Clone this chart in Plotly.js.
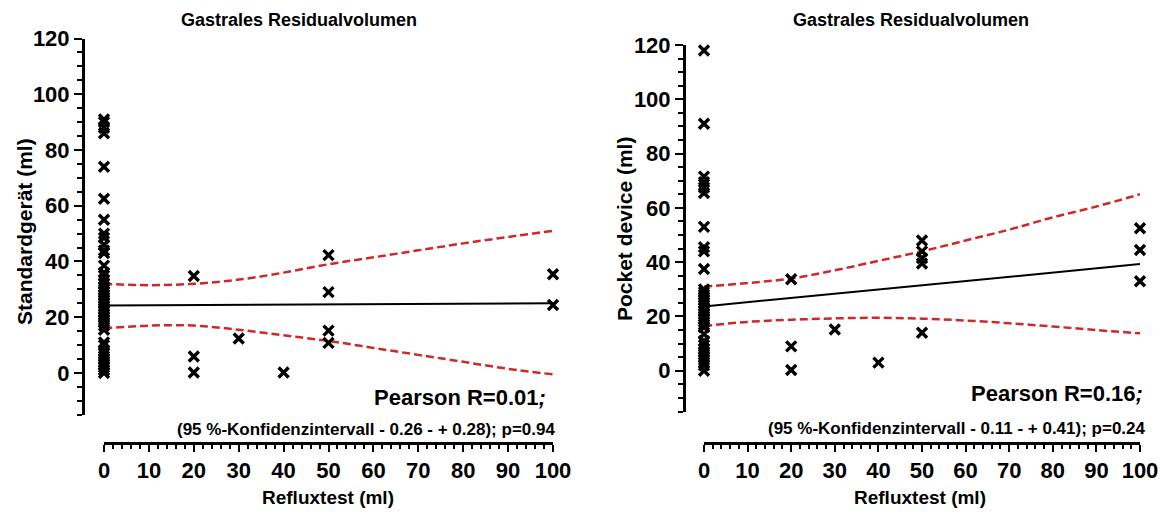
<!DOCTYPE html>
<html><head><meta charset="utf-8">
<script src="https://cdn.plot.ly/plotly-3.0.1.min.js"></script>
<style>html,body{margin:0;padding:0;background:#fff}#chart{width:1160px;height:514px}</style>
</head><body><div id="chart"></div>
<script>
// ---------- data ----------
const chartTitle = "Gastrales Residualvolumen";
const xTitle = "Refluxtest (ml)";
const leftYTitle = "Standardgerät (ml)";
const rightYTitle = "Pocket device (ml)";
const xTickVals = [0,10,20,30,40,50,60,70,80,90,100];
const yTickVals = [0,20,40,60,80,100,120];

// scatter groups: x positions and y values at each
const groupX = [0,20,30,40,50,100];
const leftGroupY = [
  [91,90,88,86,74,62.5,55,50,48.5,46,44,43,38.5,36,35,33.5,32,31,30,29,28,27,26,25,24,23,22,21,20,19,18,17,15.5,11,10,8,7,6,5,4,3,2,1,0],
  [34.8,5.9,0.2],
  [12.4],
  [0.2],
  [42.3,29,15.2,10.8],
  [35.4,24.4]
];
const rightGroupY = [
  [118,91,71.5,69.5,67.5,65.5,53,45.5,44,37.5,30,29,28,27,26,25,24,23,22,21,20,19,18,17,16,13.5,11,9.5,8,7,6,5,4,3,2,0],
  [33.7,9,0.3],
  [15.2],
  [3],
  [48,44,41.5,39.5,14],
  [52.5,44.5,33]
];

// regression lines and 95% confidence bands
const fitX = [0,100];
const leftFit = [24.2,25];
const rightFit = [23.7,39.3];
const bandX = [0,10,20,30,40,50,60,70,80,90,100];
const leftUpper = [32,31.5,32,33.5,36,39,41.5,44,46.5,48.8,51];
const leftLower = [16,17,17,15.5,13.5,11.5,9,6.5,4,1.5,-0.5];
const rightUpper = [31,32.3,34,37,40.5,44,48,52,56.5,60.5,65];
const rightLower = [16.5,18,18.8,19.3,19.5,19.2,18.5,17.5,16.3,15,13.8];

const leftStats = ["Pearson R=0.01<i>;</i>", "(95 %-Konfidenzintervall - 0.26 - + 0.28); p=0.94"];
const rightStats = ["Pearson R=0.16<i>;</i>", "(95 %-Konfidenzintervall - 0.11 - + 0.41); p=0.24"];

// ---------- layout helpers ----------
const W = 1160, H = 514;
const px = v => v / W;
const py = v => 1 - v / H;
const SANS = '"Liberation Sans", Arial, sans-serif';

function flat(groupsY) {
  const xs = [], ys = [];
  groupsY.forEach((g, i) => g.forEach(v => { xs.push(groupX[i]); ys.push(v); }));
  return {xs, ys};
}
const L = flat(leftGroupY), R = flat(rightGroupY);

const markerStyle = {symbol: 'x-thin-open', size: 10, color: '#000', line: {width: 3.4, color: '#000'}};
const redLine = {color: '#cc2a2a', width: 2.5, dash: '8px,4px', shape: 'spline'};
const blackLine = {color: '#000', width: 2};

const traces = [
  {x: bandX, y: leftUpper, xaxis: 'x', yaxis: 'y', mode: 'lines', line: redLine, cliponaxis: false},
  {x: bandX, y: leftLower, xaxis: 'x', yaxis: 'y', mode: 'lines', line: redLine, cliponaxis: false},
  {x: fitX, y: leftFit, xaxis: 'x', yaxis: 'y', mode: 'lines', line: blackLine, cliponaxis: false},
  {x: L.xs, y: L.ys, xaxis: 'x', yaxis: 'y', mode: 'markers', marker: markerStyle, cliponaxis: false},
  {x: bandX, y: rightUpper, xaxis: 'x2', yaxis: 'y2', mode: 'lines', line: redLine, cliponaxis: false},
  {x: bandX, y: rightLower, xaxis: 'x2', yaxis: 'y2', mode: 'lines', line: redLine, cliponaxis: false},
  {x: fitX, y: rightFit, xaxis: 'x2', yaxis: 'y2', mode: 'lines', line: blackLine, cliponaxis: false},
  {x: R.xs, y: R.ys, xaxis: 'x2', yaxis: 'y2', mode: 'markers', marker: markerStyle, cliponaxis: false}
];

const tickFont = {family: SANS, size: 22, color: '#000', weight: 'bold'};

function xAxis(d0, d1, pos) {
  return {
    domain: [px(d0), px(d1)], range: [0, 100], anchor: 'free', position: py(pos),
    tickmode: 'array', tickvals: xTickVals, ticks: 'outside', ticklen: 7, tickwidth: 2, tickcolor: '#000',
    minor: {dtick: 2, tick0: 0, ticks: 'outside', ticklen: 4, tickwidth: 2, tickcolor: '#000', showgrid: false},
    showline: true, linewidth: 2.5, linecolor: '#000', showgrid: false, zeroline: false,
    tickfont: tickFont, fixedrange: true
  };
}
function yAxis(top, bottom, pos) {
  return {
    domain: [py(bottom), py(top)], range: [-15, 120], anchor: 'free', position: px(pos),
    tickmode: 'array', tickvals: yTickVals, ticks: 'outside', ticklen: 8, tickwidth: 2, tickcolor: '#000',
    minor: {dtick: 5, tick0: 0, ticks: 'outside', ticklen: 5, tickwidth: 2, tickcolor: '#000', showgrid: false},
    showline: true, linewidth: 2.5, linecolor: '#000', showgrid: false, zeroline: false,
    tickfont: tickFont, fixedrange: true
  };
}

function ann(text, x, y, size, opts) {
  return Object.assign({text, x: px(x), y: py(y), xref: 'paper', yref: 'paper', showarrow: false,
    xanchor: 'center', yanchor: 'middle',
    font: {family: SANS, size: size, color: '#000', weight: 'bold'}}, opts || {});
}

const annotations = [
  ann(chartTitle, 299, 20, 18),
  ann(chartTitle, 911, 20, 18),
  ann(xTitle, 328, 497, 19),
  ann(xTitle, 920, 497, 19),
  ann(leftYTitle, 25, 232, 21, {textangle: -90}),
  ann(rightYTitle, 625, 229, 21, {textangle: -90}),
  ann(leftStats[0], 548, 397, 22, {xanchor: 'right'}),
  ann(leftStats[1], 557, 429, 17, {xanchor: 'right'}),
  ann(rightStats[0], 1145, 393, 22, {xanchor: 'right'}),
  ann(rightStats[1], 1148, 428, 17, {xanchor: 'right'})
];

const layout = {
  width: W, height: H, margin: {l: 0, r: 0, t: 0, b: 0},
  paper_bgcolor: '#fff', plot_bgcolor: 'rgba(0,0,0,0)',
  showlegend: false, hovermode: false,
  xaxis: xAxis(104, 553, 443),
  yaxis: yAxis(38.5, 414.8, 83),
  xaxis2: xAxis(704, 1140, 443),
  yaxis2: yAxis(45, 411.5, 684),
  annotations
};

Plotly.newPlot('chart', traces, layout, {staticPlot: true, displayModeBar: false});
</script>
</body></html>
